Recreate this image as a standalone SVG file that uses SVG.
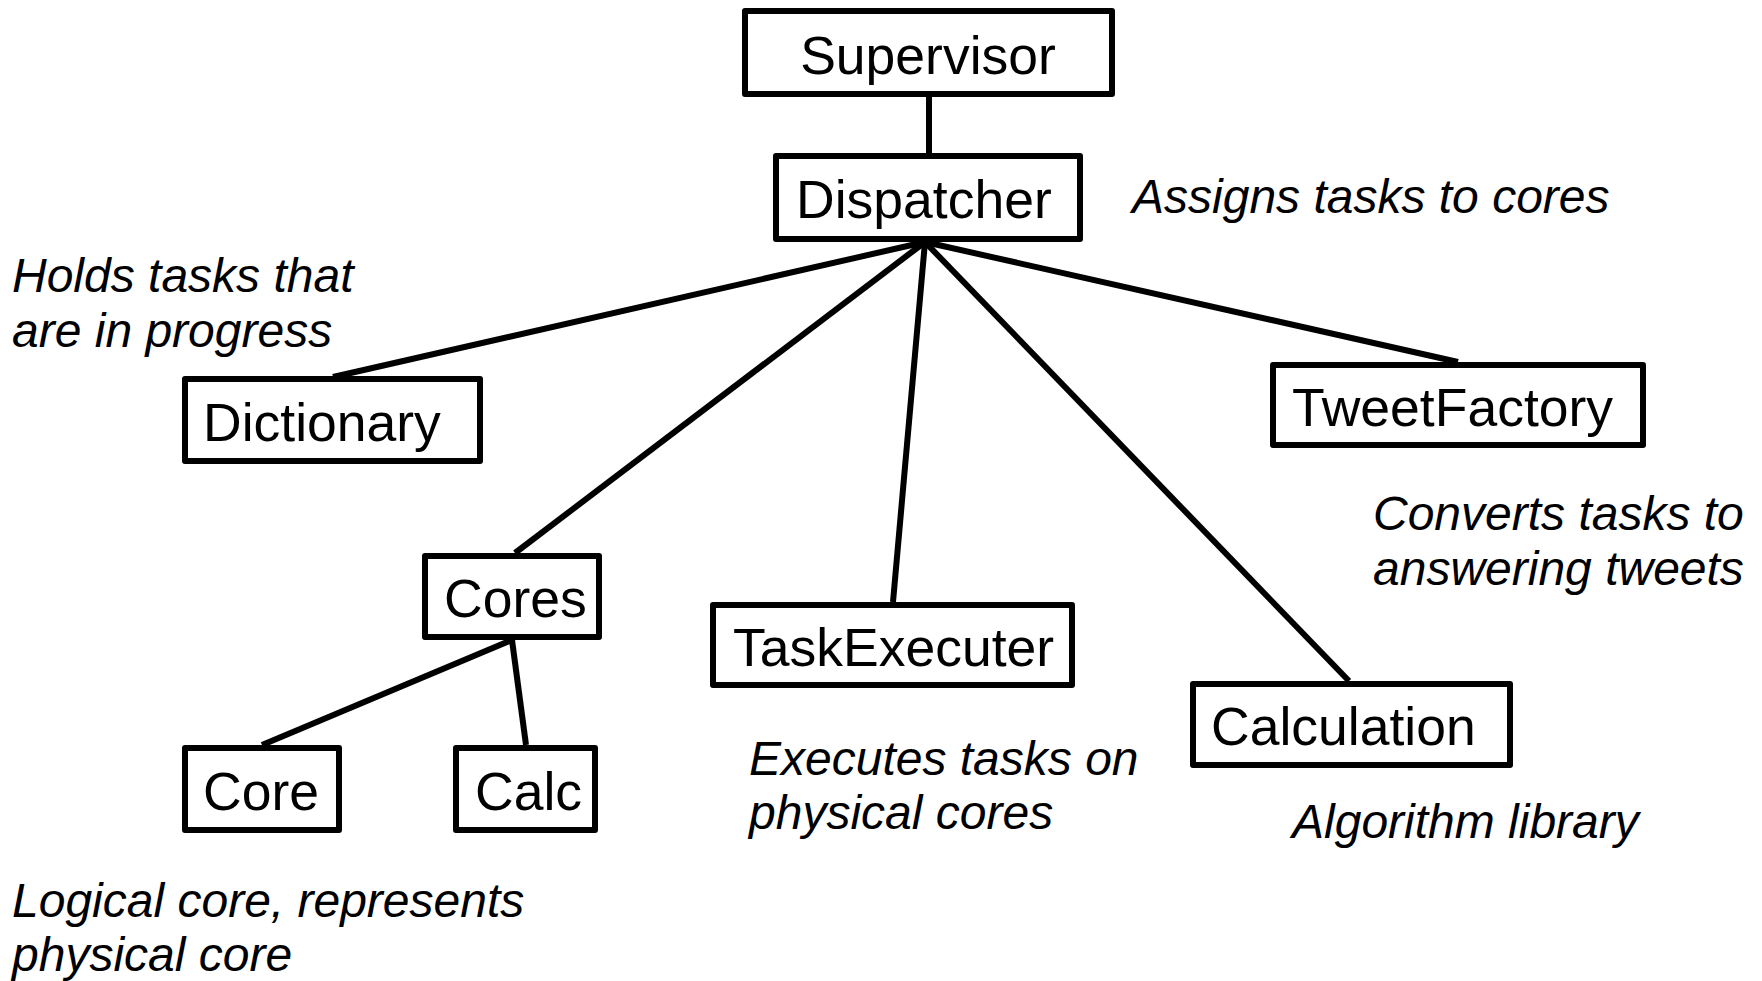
<svg xmlns="http://www.w3.org/2000/svg" width="1762" height="981" viewBox="0 0 1762 981">
<style>
.box{fill:#fff;stroke:#000;stroke-width:6;stroke-linejoin:round}
.lbl{font-family:"Liberation Sans",Arial,sans-serif;font-size:53.5px;fill:#000}
.note{font-family:"Liberation Sans",Arial,sans-serif;font-size:48px;font-style:italic;fill:#000}
.con line{stroke:#000;stroke-width:6;stroke-linecap:butt}
</style>
<rect width="1762" height="981" fill="#fff"/>
<g id="connectors" class="con">
<line x1="929" y1="96" x2="929" y2="154"/>
<line x1="925" y1="242" x2="333" y2="377"/>
<line x1="925" y1="242" x2="515" y2="553"/>
<line x1="925" y1="242" x2="893" y2="602"/>
<line x1="925" y1="242" x2="1349" y2="681"/>
<line x1="925" y1="242" x2="1458" y2="362"/>
<line x1="512" y1="640" x2="262" y2="745"/>
<line x1="512" y1="640" x2="526" y2="745"/>
</g>
<g id="supervisor"><rect class="box" x="745" y="11" width="367" height="83"/><text class="lbl" x="928" y="74" text-anchor="middle">Supervisor</text></g>
<g id="dispatcher"><rect class="box" x="776" y="156" width="304" height="83"/><text class="lbl" x="796" y="218">Dispatcher</text></g>
<g id="dictionary"><rect class="box" x="185" y="379" width="295" height="82"/><text class="lbl" x="203" y="441">Dictionary</text></g>
<g id="cores"><rect class="box" x="425" y="556" width="174" height="81"/><text class="lbl" x="444" y="617">Cores</text></g>
<g id="taskexecuter"><rect class="box" x="713" y="605" width="359" height="80"/><text class="lbl" x="733" y="666">TaskExecuter</text></g>
<g id="tweetfactory"><rect class="box" x="1273" y="365" width="370" height="80"/><text class="lbl" x="1292" y="426">TweetFactory</text></g>
<g id="calculation"><rect class="box" x="1193" y="684" width="317" height="81"/><text class="lbl" x="1211" y="745">Calculation</text></g>
<g id="core"><rect class="box" x="185" y="748" width="154" height="82"/><text class="lbl" x="203" y="810">Core</text></g>
<g id="calc"><rect class="box" x="456" y="748" width="139" height="82"/><text class="lbl" x="475" y="810">Calc</text></g>
<g id="notes">
<text class="note" x="1132" y="213">Assigns tasks to cores</text>
<text class="note" x="12" y="292">Holds tasks that</text>
<text class="note" x="12" y="347">are in progress</text>
<text class="note" x="1373" y="530">Converts tasks to</text>
<text class="note" x="1373" y="585">answering tweets</text>
<text class="note" x="749" y="775">Executes tasks on</text>
<text class="note" x="749" y="829">physical cores</text>
<text class="note" x="1292" y="838">Algorithm library</text>
<text class="note" x="12" y="917">Logical core, represents</text>
<text class="note" x="12" y="971">physical core</text>
</g>
</svg>
